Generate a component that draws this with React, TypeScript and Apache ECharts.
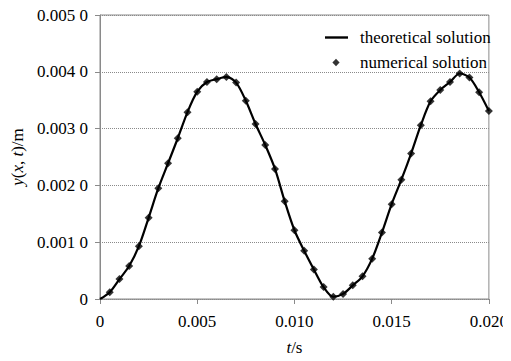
import React, { useEffect, useRef, useState } from "react";
import * as echarts from "echarts";

const timeValues = [
  0, 0.0005, 0.001, 0.0015, 0.002, 0.0025, 0.003, 0.0035, 0.004, 0.0045,
  0.005, 0.0055, 0.006, 0.0065, 0.007, 0.0075, 0.008, 0.0085, 0.009, 0.0095,
  0.01, 0.0105, 0.011, 0.0115, 0.012, 0.0125, 0.013, 0.0135, 0.014, 0.0145,
  0.015, 0.0155, 0.016, 0.0165, 0.017, 0.0175, 0.018, 0.0185, 0.019, 0.0195,
  0.02,
];

const displacement = [
  0, 0.00012, 0.00035, 0.00058, 0.00093, 0.00143, 0.00195, 0.00239, 0.00283, 0.00329,
  0.00365, 0.00382, 0.00387, 0.00391, 0.00381, 0.00349, 0.00308, 0.00271, 0.00229, 0.00172,
  0.00121, 0.00085, 0.00052, 0.00021, 0.00004, 0.00009, 0.00024, 0.0004, 0.00071, 0.00117,
  0.00167, 0.0021, 0.00256, 0.00306, 0.00348, 0.00368, 0.00382, 0.00397, 0.0039, 0.00364,
  0.00331,
];

const seriesNames = ["theoretical solution", "numerical solution"];

const FONT = "Liberation Serif";

export default function App() {
  const ref = useRef<HTMLDivElement>(null);
  const [, setTick] = useState(0);

  useEffect(() => {
    if (!ref.current) return;
    const chart = echarts.init(ref.current, null, { renderer: "svg" });
    const linePts = timeValues.map((t, i) => [t, displacement[i]]);
    const scatterPts = timeValues
      .map((t, i) => [t, displacement[i]])
      .filter((p) => p[0] > 0);

    const italic = { fontStyle: "italic", fontFamily: FONT, fontSize: 17, color: "#000" };
    const normal = { fontFamily: FONT, fontSize: 17, color: "#000" };

    const option = {
      animation: false,
      backgroundColor: "#ffffff",
      textStyle: { fontFamily: FONT },
      grid: {
        left: 100,
        right: 15,
        top: 15,
        bottom: 57,
        show: true,
        borderColor: "#8a8a8a",
        borderWidth: 1,
      },
      legend: {
        orient: "vertical",
        left: 320,
        top: 24,
        itemWidth: 30,
        itemHeight: 14,
        itemGap: 8,
        textStyle: { fontFamily: FONT, fontSize: 17, color: "#000" },
        data: [
          { name: seriesNames[0], icon: "path://M0,0M30,14M0,5.8H23V8.2H0Z" },
          { name: seriesNames[1], icon: "path://M0,0M30,14M11,3.2L14.6,7L11,10.8L7.4,7Z" },
        ],
      },
      xAxis: {
        type: "value",
        min: 0,
        max: 0.02,
        interval: 0.005,
        name: "{i|t}{n|/s}",
        nameLocation: "middle",
        nameGap: 40,
        nameTextStyle: { ...normal, rich: { i: italic, n: normal } },
        axisLine: { show: true, lineStyle: { color: "#8a8a8a", width: 1, type: "dotted" } },
        axisTick: { show: true, length: 5, lineStyle: { color: "#8a8a8a" } },
        axisLabel: {
          ...normal,
          margin: 14,
          formatter: (v: number) => (v === 0 ? "0" : v.toFixed(3)),
        },
        splitLine: { show: false },
      },
      yAxis: {
        type: "value",
        min: 0,
        max: 0.005,
        interval: 0.001,
        name: "{i|y}{n|(}{i|x}{n|, }{i|t}{n|)/m}",
        nameLocation: "middle",
        nameGap: 70,
        nameRotate: 90,
        nameTextStyle: { ...normal, rich: { i: italic, n: normal } },
        axisLine: { show: true, lineStyle: { color: "#8a8a8a", width: 1 } },
        axisTick: { show: true, length: 5, lineStyle: { color: "#8a8a8a" } },
        axisLabel: {
          ...normal,
          margin: 12,
          formatter: (v: number) => {
            if (v === 0) return "0";
            const s = v.toFixed(4);
            return s.slice(0, 5) + " " + s.slice(5);
          },
        },
        splitLine: { show: true, lineStyle: { color: "#8a8a8a", type: "dotted", width: 1 } },
      },
      series: [
        {
          name: seriesNames[0],
          type: "line",
          data: linePts,
          smooth: 0.3,
          symbol: "none",
          lineStyle: { color: "#000", width: 2.2 },
          itemStyle: { color: "#000" },
          z: 2,
        },
        {
          name: seriesNames[1],
          type: "scatter",
          data: scatterPts,
          symbol: "diamond",
          symbolSize: 8,
          itemStyle: { color: "#000" },
          z: 3,
        },
      ],
    };

    chart.setOption(option);

    const refresh = () => {
      if (!ref.current) return;
      chart.setOption(option, true);
      const texts = Array.from(ref.current.querySelectorAll("text")) as SVGTextElement[];
      texts.forEach((t) => {
        try {
          t.getComputedTextLength();
        } catch (e) {
          /* ignore */
        }
      });
      setTick((n) => n + 1);
    };
    const timer = setTimeout(refresh, 50);
    let alive = true;
    if ((document as any).fonts && (document as any).fonts.load) {
      (document as any).fonts
        .load("17px \"Liberation Serif\"")
        .then(() => {
          if (alive) refresh();
        })
        .catch(() => {});
    }

    return () => {
      alive = false;
      clearTimeout(timer);
      chart.dispose();
    };
  }, []);

  return <div ref={ref} style={{ width: 511, height: 361, margin: -8 }} />;
}
